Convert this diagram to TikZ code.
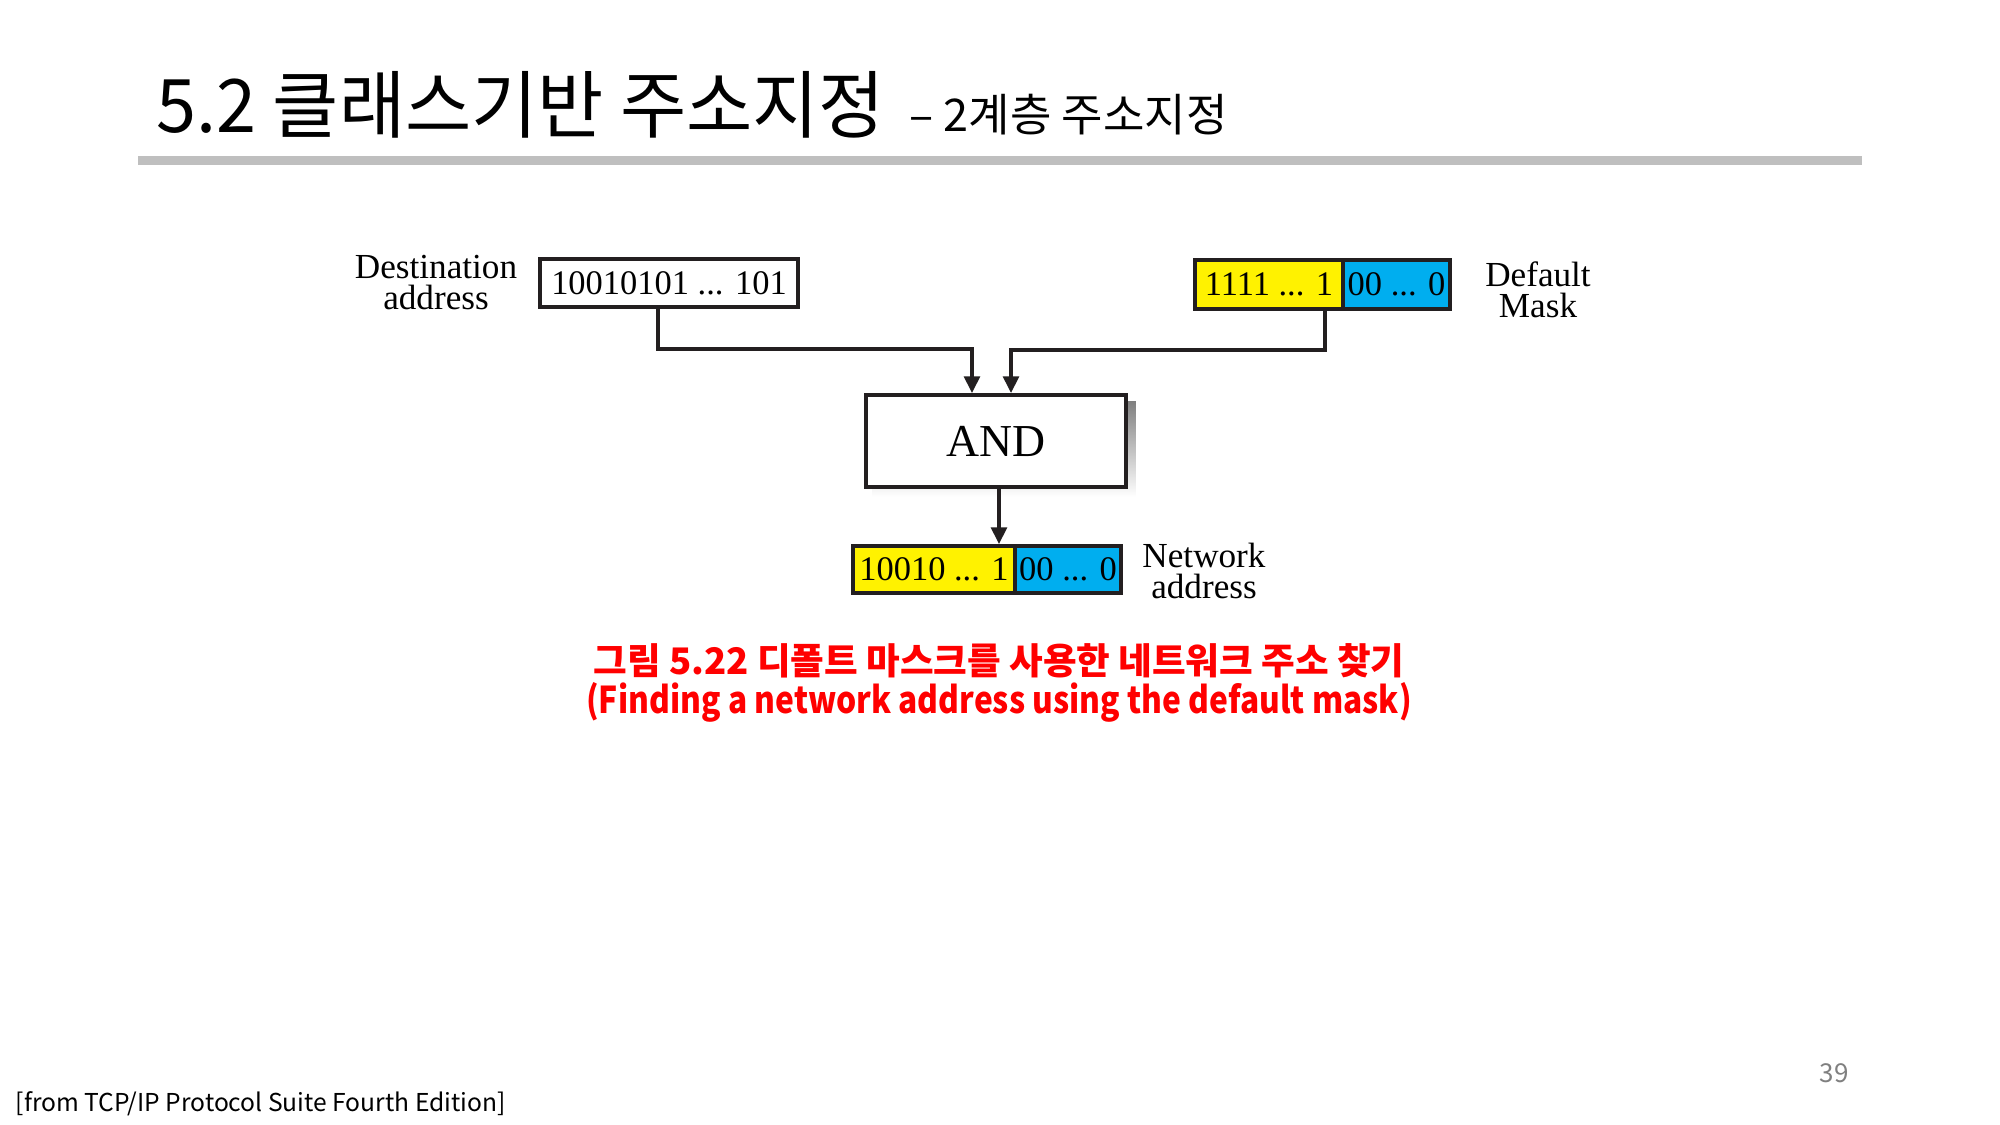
\documentclass[tikz,border=0pt]{standalone}
\usepackage{fontspec}
\setmainfont{Liberation Serif}
\newfontfamily\kr{Noto Sans CJK KR}
\usetikzlibrary{arrows.meta,calc,backgrounds}
\definecolor{barGray}{HTML}{BFBFBF}
\definecolor{maskYellow}{HTML}{FFF200}
\definecolor{maskBlue}{HTML}{00AEEF}
\definecolor{edge}{HTML}{231F20}
\definecolor{shade}{HTML}{58595B}
\definecolor{capRed}{HTML}{FF0000}
\definecolor{numGray}{HTML}{808080}
\tikzset{
  bitbox/.style={draw=edge, line width=1pt, inner sep=0pt, minimum height=0.48cm,
    font=\fontsize{9.8}{9.8}\selectfont},
  flow/.style={draw=edge, line width=1.2pt, -{Triangle[length=4.8pt,width=4.4pt]}},
  label/.style={align=center, inner sep=0pt, font=\fontsize{10}{8.8}\selectfont},
  captext/.style={inner sep=0pt, text=capRed, transform shape},
}
\begin{document}
\begin{tikzpicture}[x=0.01cm,y=-0.01cm]
\begin{scope}[on background layer]
\fill[white] (0,0) rectangle (2000,1125);
\end{scope}
\useasboundingbox (0,0) rectangle (2000,1125);

% slide heading and rule
\node[anchor=base west, inner sep=0pt, xscale=0.975, transform shape, font=\kr\fontsize{21}{21}\selectfont] (title) at (156,133) {5.2 클래스기반 주소지정};
\node[anchor=base west, inner sep=0pt, font=\kr\fontsize{12.8}{12.8}\selectfont] (subtitle) at (909,132) {– 2계층 주소지정};
\fill[barGray] (138,156) rectangle (1862,165);

% inputs
\node[bitbox, minimum width=2.58cm] (dest) at (669,283) {10010101 ... 101};
\node[label] (destlbl) at (436,283) {Destination\\address};

\node[bitbox, fill=maskYellow, minimum width=1.48cm, minimum height=0.49cm] (maskY) at (1269,284.5) {1111 ... 1};
\node[bitbox, fill=maskBlue, minimum width=1.07cm, minimum height=0.49cm] (maskB) at (1396.5,284.5) {00 ... 0};
\node[label] (masklbl) at (1538,290) {Default\\Mask};

% AND operation with drop shadow behind it
\node[draw=edge, fill=white, line width=1pt, minimum width=2.6cm, minimum height=0.92cm,
  font=\fontsize{13}{13}\selectfont] (and) at (996,441) {AND};
\begin{scope}[on background layer]
\fill[shade] ([shift={(8,8)}]and.south west) rectangle ([shift={(8,8)}]and.north east);
\end{scope}

% result
\node[bitbox, fill=maskYellow, minimum width=1.62cm, minimum height=0.47cm] (netY) at (934,569.5) {10010 ... 1};
\node[bitbox, fill=maskBlue, minimum width=1.06cm, minimum height=0.47cm] (netB) at (1068,569.5) {00 ... 0};
\node[label] (netlbl) at (1204,571) {Network\\address};

% connectors
\draw[flow] ([xshift=-0.11cm]dest.south) -- ++(0,40) -| ([xshift=-0.24cm]and.north);
\draw[flow] ([xshift=0.56cm]maskY.south) -- ++(0,39) -| ([xshift=0.15cm]and.north);
\draw[flow] ([xshift=0.03cm]and.south) -- ([xshift=0.03cm]and.south |- netY.north);

% caption
\node[captext, font=\kr\bfseries\fontsize{10.4}{10.4}\selectfont] (capKo) at (999,661)
  {그림 5.22 디폴트 마스크를 사용한 네트워크 주소 찾기};
\node[captext, xscale=0.86, font=\kr\bfseries\fontsize{10.5}{10.5}\selectfont] (capEn) at (999,702)
  {(Finding a network address using the default mask)};

% source note and page number
\node[anchor=base west, inner sep=0pt, font=\kr\fontsize{7}{7}\selectfont] (source) at (15,1111) {[from TCP/IP Protocol Suite Fourth Edition]};
\node[inner sep=0pt, text=numGray, font=\kr\fontsize{7.4}{7.4}\selectfont] (page) at (1834,1073) {39};
\end{tikzpicture}
\end{document}
